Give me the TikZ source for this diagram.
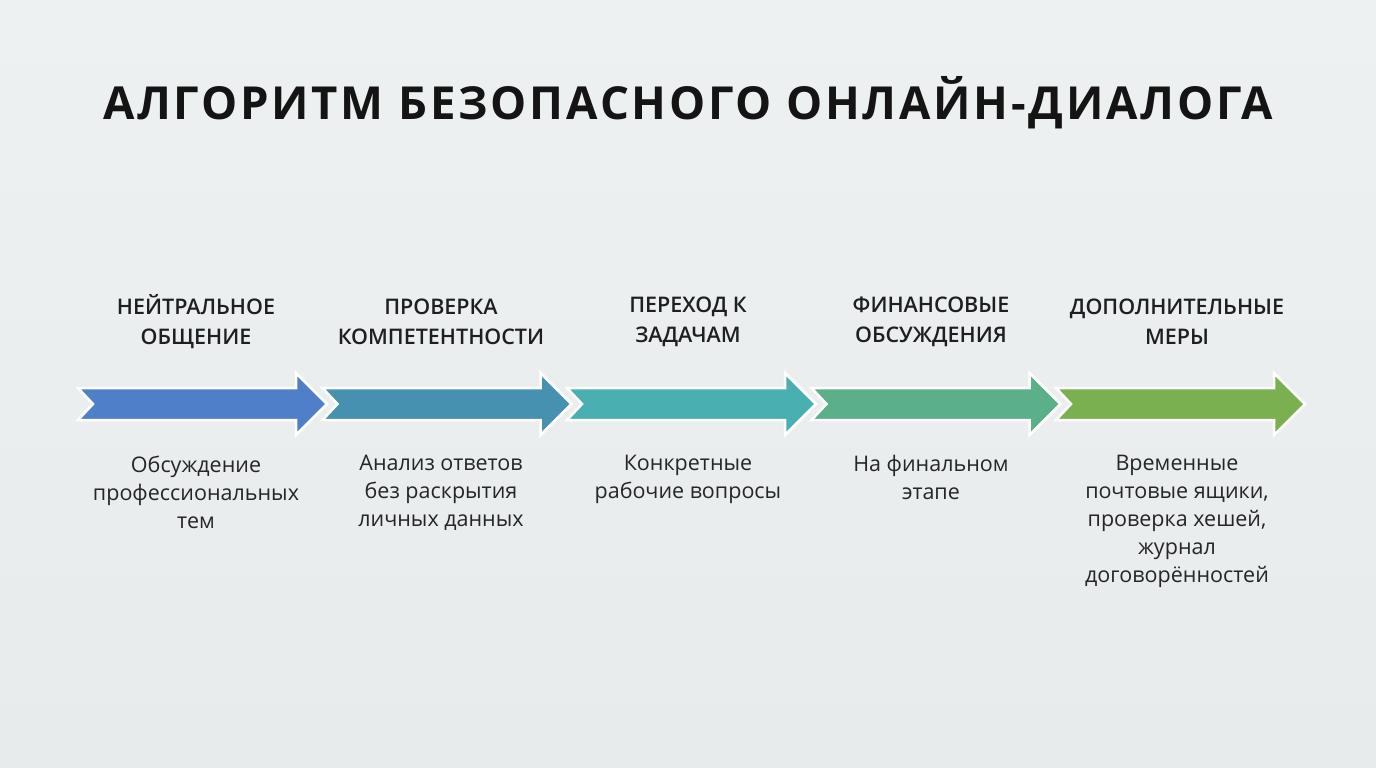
\documentclass[tikz,border=0pt]{standalone}
\usepackage{fontspec}
\setmainfont{Open Sans}[BoldFont={* Semibold}]
\newfontfamily\titlefont{Open Sans}[UprightFont={* Bold},LetterSpace=6]
\begin{document}
\begin{tikzpicture}[x=1pt,y=-1pt,
 arr/.style={draw=white,line width=2.5pt,line join=miter},
 head/.style={font=\fontsize{21.5}{30}\selectfont\bfseries,align=center,text=black!88},
 body/.style={font=\fontsize{21.5}{28}\selectfont,align=center,text=black!85,anchor=north}]
\definecolor{bg1}{HTML}{EEF1F2}\definecolor{bg2}{HTML}{E7EBEC}
\fill[top color=bg1, bottom color=bg2] (0,0) rectangle (1376,768);
\useasboundingbox (0,0) rectangle (1376,768);
\node[font=\fontsize{45.5}{50}\titlefont,text=black!92] (title) at (688,103) {АЛГОРИТМ БЕЗОПАСНОГО ОНЛАЙН-ДИАЛОГА};
\definecolor{c1}{HTML}{4F7FC8}\definecolor{c2}{HTML}{4690B0}\definecolor{c3}{HTML}{4AAFB0}
\definecolor{c4}{HTML}{5BB08A}\definecolor{c5}{HTML}{7AB050}
\foreach \i/\c in {0/c1,1/c2,2/c3,3/c4,4/c5}{
 \pgfmathsetmacro{\o}{\i*244.5}
 \fill[\c,arr] (78+\o,388) -- (296+\o,388) -- (296+\o,373) -- (327+\o,404) -- (296+\o,435) -- (296+\o,420) -- (78+\o,420) -- (93+\o,404) -- cycle;
}
\node[head] (h1) at (196,322) {НЕЙТРАЛЬНОЕ\\ОБЩЕНИЕ};
\node[head] (h2) at (441,322) {ПРОВЕРКА\\КОМПЕТЕНТНОСТИ};
\node[head] (h3) at (688,322) {ПЕРЕХОД К\\ЗАДАЧАМ};
\node[head] (h4) at (931,322) {ФИНАНСОВЫЕ\\ОБСУЖДЕНИЯ};
\node[head] (h5) at (1177,322) {ДОПОЛНИТЕЛЬНЫЕ\\МЕРЫ};
\node[body] (b1) at (196,452) {Обсуждение\\профессиональных\\тем};
\node[body] (b2) at (441,452) {Анализ ответов\\без раскрытия\\личных данных};
\node[body] (b3) at (688,452) {Конкретные\\рабочие вопросы};
\node[body] (b4) at (931,452) {На финальном\\этапе};
\node[body] (b5) at (1177,452) {Временные\\почтовые ящики,\\проверка хешей,\\журнал\\договорённостей};
\end{tikzpicture}
\end{document}
